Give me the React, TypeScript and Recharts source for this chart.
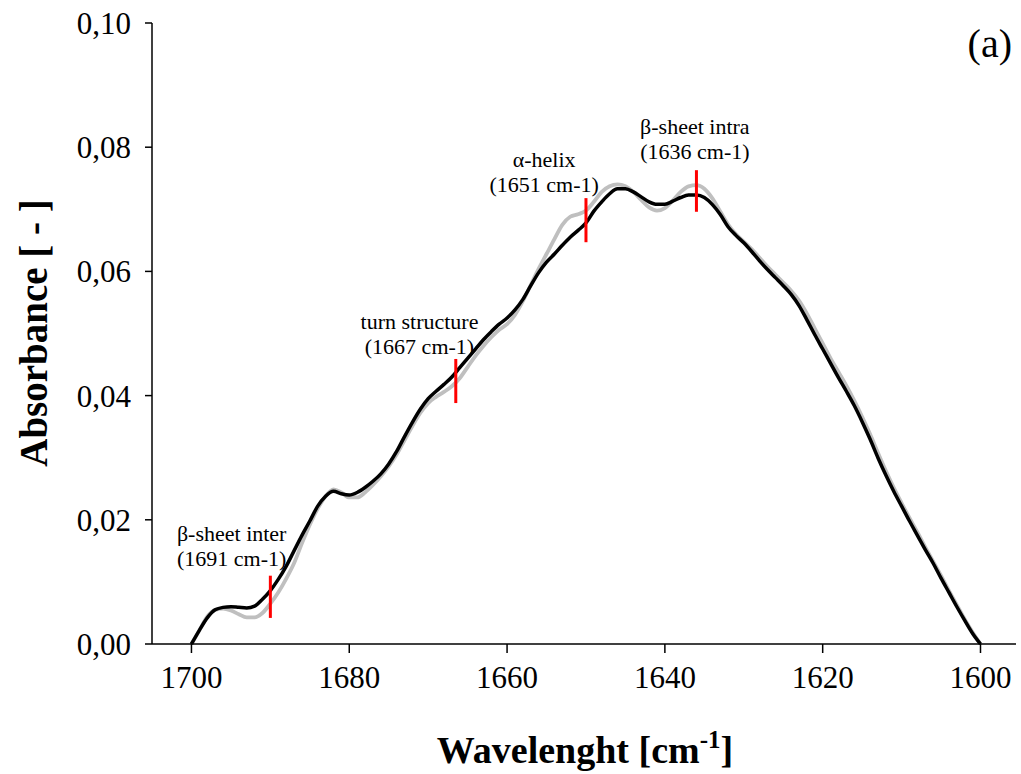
import React from "react";
import {
  LineChart,
  Line,
  XAxis,
  YAxis,
  ReferenceLine,
  ReferenceDot,
} from "recharts";

// wavenumber [cm-1]
const wavenumbers = [
  1700, 1699, 1698, 1697, 1696, 1695, 1694, 1693, 1692, 1691,
  1690, 1689, 1688, 1687, 1686, 1685, 1684, 1683, 1682, 1681,
  1680, 1679, 1678, 1677, 1676, 1675, 1674, 1673, 1672, 1671,
  1670, 1669, 1668, 1667, 1666, 1665, 1664, 1663, 1662, 1661,
  1660, 1659, 1658, 1657, 1656, 1655, 1654, 1653, 1652, 1651,
  1650, 1649, 1648, 1647, 1646, 1645, 1644, 1643, 1642, 1641,
  1640, 1639, 1638, 1637, 1636, 1635, 1634, 1633, 1632, 1631,
  1630, 1629, 1628, 1627, 1626, 1625, 1624, 1623, 1622, 1621,
  1620, 1619, 1618, 1617, 1616, 1615, 1614, 1613, 1612, 1611,
  1610, 1609, 1608, 1607, 1606, 1605, 1604, 1603, 1602, 1601,
  1600,
];

const blackSpectrum = [
  0, 0.0022, 0.0042, 0.0055, 0.0059, 0.006, 0.0059, 0.0058, 0.0061, 0.0072,
  0.0086, 0.0104, 0.0125, 0.015, 0.0175, 0.0198, 0.0222, 0.0238, 0.0246, 0.0242,
  0.024, 0.0244, 0.0252, 0.0262, 0.0274, 0.029, 0.031, 0.0334, 0.0357, 0.0378,
  0.0395, 0.0407, 0.0418, 0.043, 0.0445, 0.046, 0.0475, 0.049, 0.0503, 0.0515,
  0.0525, 0.0538, 0.0555, 0.0577, 0.0598, 0.0615, 0.0628, 0.0642, 0.0655, 0.0666,
  0.0678, 0.0697, 0.0712, 0.0725, 0.0733, 0.0733, 0.0728, 0.072, 0.0712, 0.0708,
  0.0708, 0.0713, 0.0719, 0.0723, 0.0723, 0.0719, 0.0708, 0.0692, 0.0672, 0.0658,
  0.0646, 0.0632, 0.0617, 0.0603, 0.059, 0.0577, 0.0563, 0.0545, 0.0522, 0.0498,
  0.0475, 0.0452, 0.0429, 0.0407, 0.0384, 0.0358, 0.033, 0.03, 0.0272, 0.0246,
  0.0222, 0.0198, 0.0175, 0.0152, 0.013, 0.0106, 0.0083, 0.006, 0.0038, 0.0017,
  0,
];

const greySpectrum = [
  0, 0.0022, 0.0044, 0.0055, 0.0057, 0.0054, 0.0048, 0.0043, 0.0043, 0.005,
  0.0065, 0.0083, 0.0105, 0.013, 0.0162, 0.0192, 0.0218, 0.0238, 0.0249, 0.0244,
  0.0236, 0.0236, 0.0244, 0.0256, 0.027, 0.0286, 0.0305, 0.0328, 0.0351, 0.0372,
  0.0388, 0.0398, 0.0406, 0.0415, 0.0428, 0.0446, 0.0464, 0.048, 0.0494, 0.0506,
  0.0515, 0.053, 0.0552, 0.0578, 0.0604, 0.0628, 0.0652, 0.0675, 0.0688, 0.0692,
  0.0698, 0.0712, 0.0728, 0.0737, 0.074, 0.0737, 0.0728, 0.0715, 0.0703, 0.0698,
  0.0702, 0.0714, 0.0728, 0.0737, 0.0739, 0.0733, 0.0718, 0.0697, 0.0676, 0.066,
  0.0648, 0.0636, 0.0622, 0.0608, 0.0595, 0.0582, 0.0569, 0.0553, 0.0532, 0.0508,
  0.0484, 0.046, 0.0438, 0.0416, 0.0392, 0.0366, 0.0338, 0.0308, 0.0279, 0.0252,
  0.0227, 0.0203, 0.018, 0.0156, 0.0133, 0.011, 0.0086, 0.0063, 0.004, 0.0019,
  0,
];

const xTicks = [1600, 1620, 1640, 1660, 1680, 1700];
const yTicks = [0, 0.02, 0.04, 0.06, 0.08, 0.1];

// band markers: position and vertical extent
const markerX = [1690, 1666.5, 1650, 1636];
const markerLow = [0.0042, 0.0388, 0.0647, 0.0696];
const markerHigh = [0.011, 0.0459, 0.0718, 0.0763];

// annotation text and where its centre sits
const bandNames = ["β-sheet inter", "turn structure", "α-helix", "β-sheet intra"];
const bandWaves = ["(1691 cm-1)", "(1667 cm-1)", "(1651 cm-1)", "(1636 cm-1)"];
const labelX = [1694.9, 1671.1, 1655.3, 1636.2];
const labelY = [0.0156, 0.0498, 0.0758, 0.0812];

const data = wavenumbers.map((w, i) => ({
  w,
  black: blackSpectrum[i],
  grey: greySpectrum[i],
}));

const serif = "'Liberation Serif', 'Times New Roman', serif";

const twoLines = (a: string, b: string) => (props: any) => {
  const vb = props.viewBox || {};
  const cx = vb.x + (vb.width || 0) / 2;
  const cy = vb.y + (vb.height || 0) / 2;
  return (
    <text
      x={cx}
      y={cy}
      textAnchor="middle"
      fontFamily={serif}
      fontSize={22}
      fill="#000"
    >
      <tspan x={cx} dy={-6}>{a}</tspan>
      <tspan x={cx} dy={25}>{b}</tspan>
    </text>
  );
};

const fmt = (v: number) => v.toFixed(2).replace(".", ",");

export default function App() {
  return (
    <div style={{ position: "absolute", left: 0, top: 0, background: "#fff" }}>
      <LineChart
        width={1021}
        height={774}
        data={data}
        margin={{ top: 23, right: 5, bottom: 0, left: 0 }}
      >
        <XAxis
          dataKey="w"
          type="number"
          domain={[1595.5, 1705]}
          reversed
          ticks={xTicks}
          height={130}
          tickSize={9}
          tickMargin={13}
          axisLine={{ stroke: "#000", strokeWidth: 1.5 }}
          tickLine={{ stroke: "#000", strokeWidth: 1.5 }}
          tick={{ fill: "#000", fontSize: 31, fontFamily: serif }}
          allowDataOverflow
        />
        <YAxis
          type="number"
          domain={[0, 0.1]}
          ticks={yTicks}
          width={152}
          tickSize={7}
          tickMargin={14}
          tickFormatter={fmt}
          axisLine={{ stroke: "#000", strokeWidth: 1.5 }}
          tickLine={{ stroke: "#000", strokeWidth: 1.5 }}
          tick={{ fill: "#000", fontSize: 31, fontFamily: serif }}
        />
        <Line
          type="monotone"
          dataKey="grey"
          stroke="#bfbfbf"
          strokeWidth={3.8}
          dot={false}
          isAnimationActive={false}
        />
        <Line
          type="monotone"
          dataKey="black"
          stroke="#000"
          strokeWidth={3.5}
          dot={false}
          isAnimationActive={false}
        />
        {markerX.map((x, i) => (
          <ReferenceLine
            key={"m" + i}
            segment={[
              { x, y: markerLow[i] },
              { x, y: markerHigh[i] },
            ]}
            stroke="#ff0000"
            strokeWidth={3}
          />
        ))}
        {labelX.map((x, i) => (
          <ReferenceDot
            key={"l" + i}
            x={x}
            y={labelY[i]}
            r={1}
            fill="none"
            stroke="none"
            label={{ content: twoLines(bandNames[i], bandWaves[i]) }}
          />
        ))}
      </LineChart>
      <svg
        width={1021}
        height={774}
        style={{ position: "absolute", left: 0, top: 0, pointerEvents: "none" }}
      >
        <text
          x={585}
          y={763}
          textAnchor="middle"
          fontFamily={serif}
          fontWeight="bold"
          fontSize={38}
          fill="#000"
        >
          Wavelenght [cm
          <tspan fontSize={25} dy={-15}>-1</tspan>
          <tspan dy={15}>]</tspan>
        </text>
        <text
          transform="translate(47,333) rotate(-90)"
          textAnchor="middle"
          fontFamily={serif}
          fontWeight="bold"
          fontSize={39}
          fill="#000"
        >
          Absorbance [ - ]
        </text>
        <text x={1012} y={57} textAnchor="end" fontFamily={serif} fontSize={40} fill="#000">
          (a)
        </text>
      </svg>
    </div>
  );
}
